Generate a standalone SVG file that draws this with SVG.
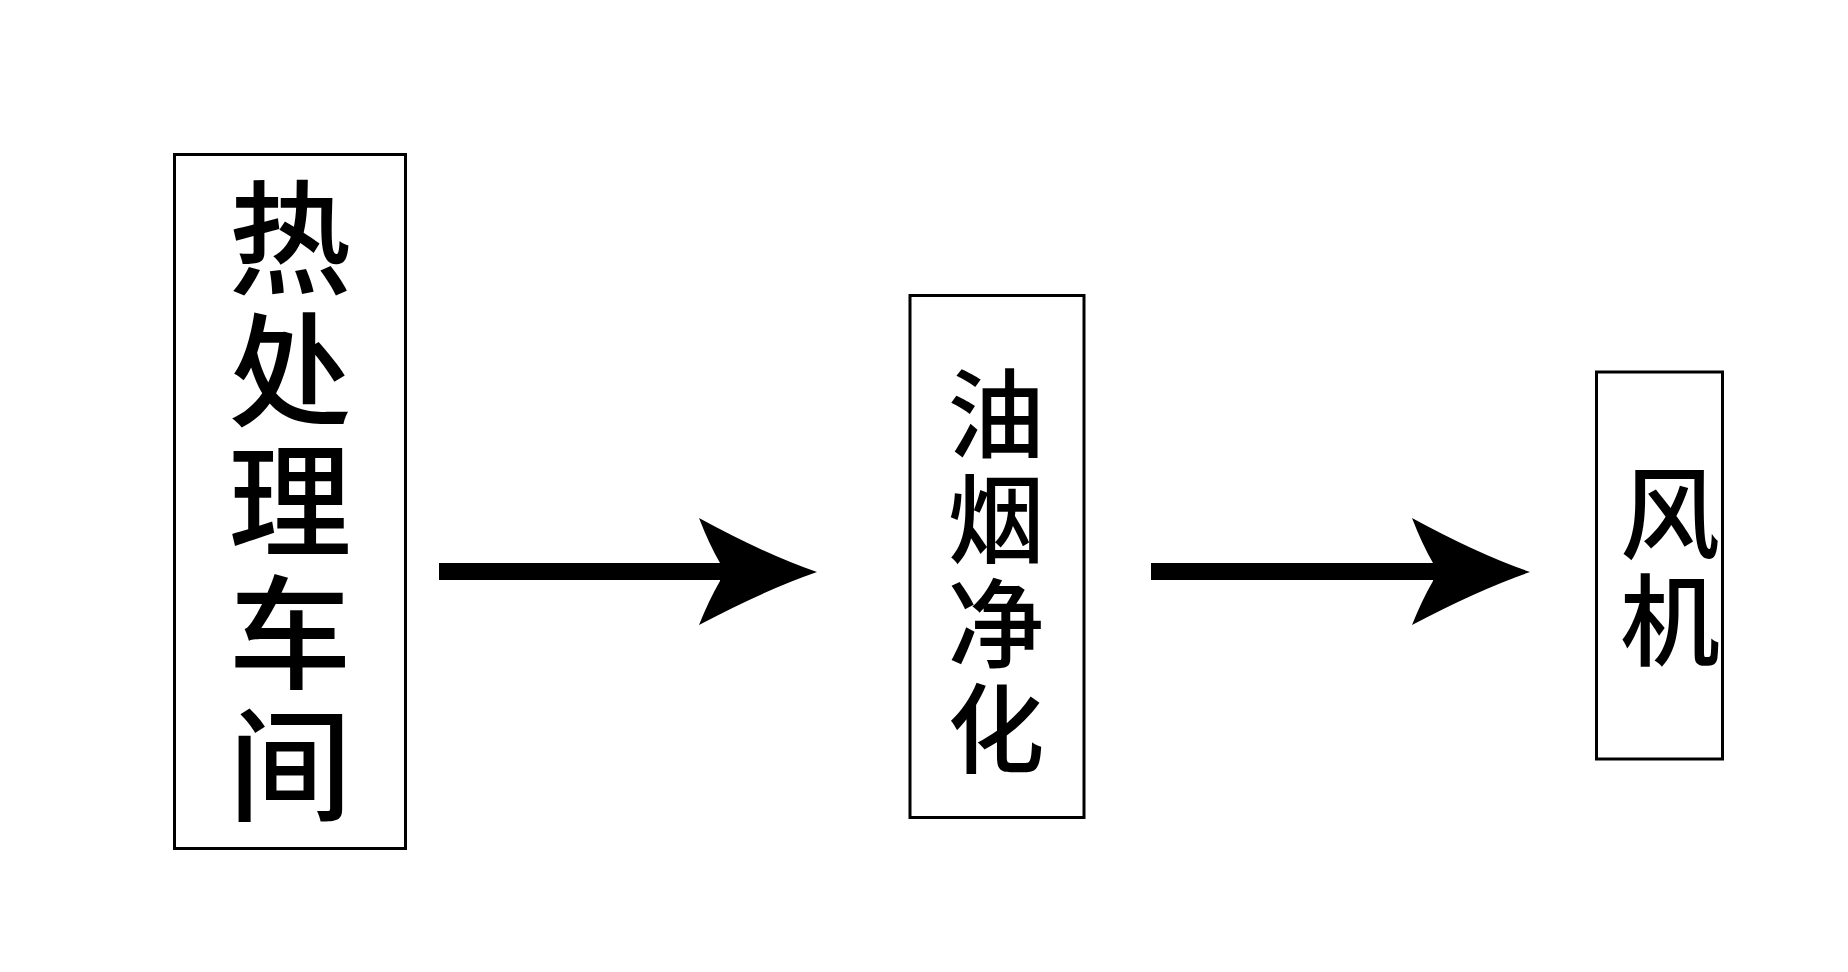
<svg xmlns="http://www.w3.org/2000/svg" width="1848" height="972" viewBox="0 0 1848 972">
<style>
.box{fill:#fff;stroke:#000;stroke-width:3}
.lbl{font-family:'Noto Sans CJK SC',sans-serif;font-weight:500;fill:#000;text-anchor:middle}
.big{font-size:123px}
.mid{font-size:97px}
.fan{font-size:100px}
.shaft{stroke:#000;stroke-width:17;fill:none}
</style>
<defs>
<path id="head" d="M0,0 Q-52,-18 -118,-54 Q-108,-28 -97,-9 L-97,9 Q-108,28 -118,53 Q-52,18 0,0 Z" fill="#000"/>
</defs>
<rect width="1848" height="972" fill="#fff"/>
<g id="node-heat">
<rect class="box" x="174.5" y="154.5" width="231" height="694"/>
<text class="lbl big" x="290" y="284">热</text>
<text class="lbl big" x="290" y="416">处</text>
<text class="lbl big" x="290" y="547">理</text>
<text class="lbl big" x="290" y="679">车</text>
<text class="lbl big" x="290" y="811">间</text>
</g>
<g id="node-oil">
<rect class="box" x="910" y="295.5" width="174" height="522"/>
<text class="lbl mid" x="996" y="450">油</text>
<text class="lbl mid" x="996" y="555">烟</text>
<text class="lbl mid" x="996" y="660">净</text>
<text class="lbl mid" x="996" y="765">化</text>
</g>
<g id="node-fan">
<rect class="box" x="1596.5" y="372" width="126" height="387"/>
<text class="lbl fan" x="1670" y="551">风</text>
<text class="lbl fan" x="1670" y="658">机</text>
</g>
<g id="connectors">
<line class="shaft" x1="439" y1="571.5" x2="725" y2="571.5"/>
<use href="#head" x="817" y="572"/>
<line class="shaft" x1="1151" y1="571.5" x2="1438" y2="571.5"/>
<use href="#head" x="1530" y="572"/>
</g>
</svg>
